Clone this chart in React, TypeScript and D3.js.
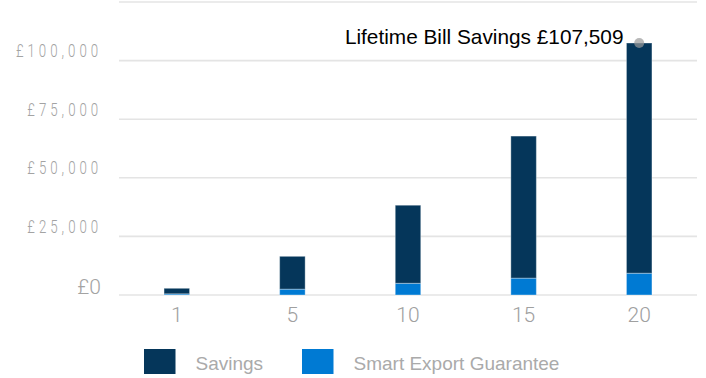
import React from "react";
import * as d3 from "d3";

const years = ["1", "5", "10", "15", "20"];
const savings = [2360, 14000, 33300, 60600, 98209];
const seg = [500, 2500, 5000, 7200, 9300];
const yTicks = [0, 25000, 50000, 75000, 100000, 125000];
const yTickLabels = ["£0", "£25,000", "£50,000", "£75,000", "£100,000", ""];
const seriesNames = ["Savings", "Smart Export Guarantee"];
const annotation = "Lifetime Bill Savings £107,509";

const W = 706;
const H = 378;
const DARK = "#05365a";
const BLUE = "#007ad3";

export default function App() {
  const x = d3.scaleBand<string>().domain(years).range([119, 697]);
  const y = d3.scaleLinear().domain([0, 125000]).range([295, 2]);
  const barW = 25.5;
  const stackData = years.map((yr, i) => ({ year: yr, seg: seg[i], savings: savings[i] }));
  const stacked = d3.stack<any>().keys(["seg", "savings"])(stackData);
  const colors: Record<string, string> = { seg: BLUE, savings: DARK };
  const lastIdx = years.length - 1;
  const lastTotal = seg[lastIdx] + savings[lastIdx];
  const cxLast = (x(years[lastIdx]) as number) + x.bandwidth() / 2;

  return (
    <svg width={W} height={H} style={{ position: "absolute", left: 0, top: 0, background: "#fff" }}>
      {yTicks.map((t) => (
        <line key={t} x1={119} x2={697} y1={y(t)} y2={y(t)} stroke="#e4e4e4" strokeWidth={1.6} />
      ))}
      {yTicks.map((t, i) => {
        const lbl = yTickLabels[i];
        if (!lbl) return null;
        if (t === 0) {
          return (
            <text key={t} x={101} y={y(t) - 1.5} textAnchor="end" fontFamily="Roboto" fontWeight={300} fontSize={21} fill="#a3a3a3">
              {lbl}
            </text>
          );
        }
        return (
          <g key={t} transform={`translate(${102.2},${y(t) - 3.5}) scale(0.7,1)`}>
            <text x={0} y={0} textAnchor="end" fontFamily="Roboto" fontWeight={300} fontSize={19} letterSpacing={5.7} fill="#a3a3a3">
              {lbl}
            </text>
          </g>
        );
      })}
      {stacked.map((layer) => (
        <g key={layer.key} fill={colors[layer.key]}>
          {layer.map((d, i) => {
            const cx = (x(years[i]) as number) + x.bandwidth() / 2;
            return (
              <rect
                key={i}
                x={cx - barW / 2}
                y={y(d[1])}
                width={barW}
                height={y(d[0]) - y(d[1])}
                stroke="rgba(255,255,255,0.35)"
                strokeWidth={1}
              />
            );
          })}
        </g>
      ))}
      {years.map((yr) => (
        <text
          key={yr}
          x={(x(yr) as number) + x.bandwidth() / 2}
          y={322}
          textAnchor="middle"
          fontFamily="Roboto"
          fontWeight={300}
          fontSize={21}
          fill="#a0a0a0"
        >
          {yr}
        </text>
      ))}
      <circle cx={cxLast} cy={y(lastTotal)} r={5} fill="#9a9a9a" fillOpacity={0.7} />
      <text x={623.5} y={43.5} textAnchor="end" fontFamily="Liberation Sans, Arial" fontSize={20.8} fill="#000">
        {annotation}
      </text>
      {seriesNames.map((name, i) => {
        const lx = i === 0 ? 144 : 302;
        return (
          <g key={name}>
            <rect x={lx} y={349} width={31.5} height={25} fill={i === 0 ? DARK : BLUE} />
            <text x={lx + 51.5} y={370} fontFamily="Liberation Sans, Arial" fontSize={19} fill="#aaaaaa">
              {name}
            </text>
          </g>
        );
      })}
    </svg>
  );
}
